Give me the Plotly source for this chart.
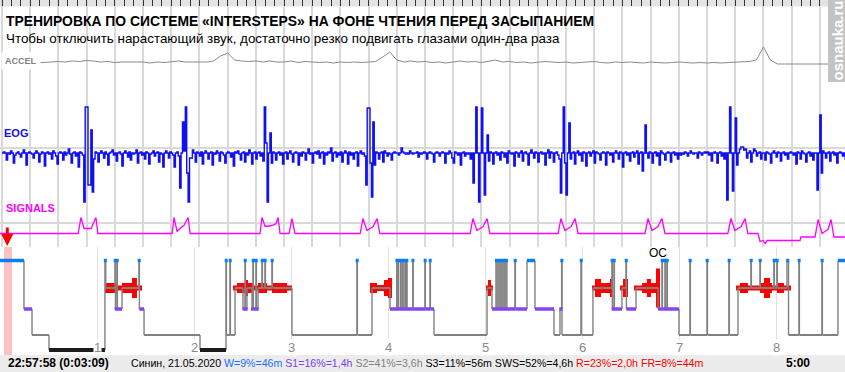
import plotly.graph_objects as go

# ---------------- data ----------------
TITLE = "ТРЕНИРОВКА ПО СИСТЕМЕ «INTERSTEPS» НА ФОНЕ ЧТЕНИЯ ПЕРЕД ЗАСЫПАНИЕМ"
SUBTITLE = "Чтобы отключить нарастающий звук, достаточно резко подвигать глазами один-два раза"
WATERMARK = "osnauka.ru"
CHANNELS = ["ACCEL", "EOG", "SIGNALS"]

# raw 30-second window (seconds)
accel_dt = 0.25
accel = [0, 0, 0, 0, 0, 0, 0.5, 1, 1.5, 1,
         2, 1.5, 2.5, 2, 1, 1.5, 0.5, 1, 1, 0.5,
         1, 0, 1, 0.5, 1, 2, 1, 1, 0.5, 1,
         2, 7, 10, 3, 2, 1.5, 2, 1, 2, 1,
         1, 2, 0.5, 1.5, 1, 0.5, 1, 0, 1, 0.5,
         1, 0.5, 1, 1.5, 6, 11, 3, 1, 2, 1,
         1.5, 0.5, 1, 0, 1, 2, 1, 1.5, 0.5, 2,
         3, 1, 1.5, 0.5, 1, 0, 1, 1.5, 1, 0.5,
         1, 0, 0.5, 1, 1.5, 0.5, 0, 1, 0.5, 1,
         0.5, 0, 1, 0.5, 0, 0.5, 1, 0.5, 0, 0.5,
         0, 0.5, 0, 0.5, 1, 1, 1.5, 3, 16, 3,
         -1, -1, -1, -1, -1, -1, -1, -1, -1, -1, -1]

eog_dt = 0.05
eog = [0, 1, 0, -7, 0, -1, 2, 0, -10, -2, 0, 1, -1, -4, 0, 3, 0, -12, 0, 1,
       0, -1, -5, 0, 2, 0, -9, -1, 1, 0, -13, 0, 1, -1, 0, -6, 2, 0, -3, -11,
       0, 1, 0, -7, 1, -2, 0, 4, -1, -10, 0, 1, -3, 0, -14, 1, 0, -2, -49, 46,
       46, -32, -32, 23, -39, -6, 1, 0, -9, 0, 2, 0, -5, 1, -1, -12, 0, 1, 3, -2,
       0, -8, 0, 1, -1, -13, 0, 2, 0, -4, 1, -7, 0, -1, 0, 3, -10, 0, 1, -2,
       0, -6, 1, 0, -11, -1, 0, 2, -3, 0, 1, -9, 0, -1, -14, 0, 2, 0, -5, 1,
       0, -2, -14, 0, 1, -3, -35, 0, 31, 2, 46, -20, -49, -5, -5, 3, 0, -9, 1, 0,
       -3, 1, -11, 0, 2, 0, -6, 0, 1, -12, 0, -1, 2, 0, -8, 1, 0, -2, -10, 0,
       1, 0, -4, 0, -13, 1, 0, 2, -1, -7, 0, 1, -9, 0, -2, 3, 0, -11, 0, 1,
       -6, 0, 1, -3, 0, -8, 46, 10, -49, 0, 20, -10, 1, 0, -7, 0, 1, -2, 0, -11,
       0, 1, -6, 0, 2, -1, -9, 0, 1, 0, -12, 0, -3, 1, 0, -7, 0, 4, -1, 0,
       -10, 0, 1, -1, 2, -5, 0, 1, -11, 0, -2, 1, 0, 5, -8, 0, 1, -4, 0, -2,
       1, -9, 0, 2, 0, -11, 1, -2, 0, -6, 0, 1, -13, 0, 2, -1, 0, -3, -32, 45,
       45, -10, -44, 31, -12, 1, 0, -6, 0, 1, -9, 2, 0, -3, 0, -1, -7, 0, 1, 0,
       0, -2, 0, 5, 1, 0, -1, 0, -1, 2, 0, -1, 0, 0, 1, -4, 0, -1, 0, 1,
       0, -6, 0, 1, 0, -1, -9, 0, 1, 0, -3, 0, 1, 0, -10, 0, -1, 2, 0, -5,
       -10, 1, 0, -2, 0, -12, 0, 1, -3, 0, -1, 0, -6, 0, -30, 0, 46, 0, -49, 0,
       45, 0, -42, 0, 18, -8, 1, 0, -11, 0, 1, -2, 0, -7, 1, 0, -4, 0, -10, 2,
       0, -1, 0, -13, 1, 0, -4, 0, 2, -8, 0, 1, -1, -12, 0, 3, 0, -5, 1, 0,
       -9, 0, 1, -1, 0, -12, 0, 3, -5, 1, 0, -9, 0, 1, -2, -6, -40, 0, 46, -10,
       -42, 0, 30, -6, 0, 1, -11, 0, 2, -2, 0, -8, 1, 0, -13, 0, 1, -3, 0, 2,
       -10, 1, 0, -1, -7, 0, 1, 0, -12, 1, 0, -2, 0, -9, 0, 2, 0, -6, 1, 0,
       -14, 0, 1, -2, 0, -8, 0, 1, -4, 0, 2, -11, 0, 1, -18, 0, 28, 0, -5, 1,
       0, -10, 0, 1, -3, 0, -12, 2, 0, -1, -7, 0, 1, 0, -9, 0, 1, -2, 0, -6,
       0, -2, 0, -1, 1, 0, -3, 0, 2, 0, -1, 0, 0, -5, 1, 0, -2, 0, 1, 0,
       1, -2, 0, -8, 0, 1, 0, -10, 0, 1, -3, 0, -6, 0, -47, 0, 46, 0, -38, 0,
       35, -12, 0, 4, 6, 6, 3, 4, -5, 0, 2, -9, 0, 4, 2, -3, 0, 1, -6, 0,
       0, -7, 1, 0, -1, -10, 0, 2, 0, -4, 1, 0, -8, 0, 1, -2, 0, -6, 0, 1,
       0, -2, 0, -11, 1, 0, -6, 2, 0, -1, -9, 0, 1, -3, 0, -7, 0, 0, -37, 0,
       38, -20, 2, 0, -5, 0, 1, -8, 0, 1, -2, 0, -10, 0, 1, 0, -3, 0, -6, 0]

signals_t = [-0.07, 2.70, 2.80, 2.91, 3.16, 3.33, 3.40,
             6.03, 6.10, 6.21, 6.31, 6.45, 6.60, 6.67,
             9.15, 9.22, 9.33, 9.57, 9.72, 9.79, 9.86,
             10.18, 10.28, 10.39,
             12.70, 12.80, 12.94, 13.05, 13.16, 13.30, 13.40,
             16.60, 16.70, 16.84, 16.95, 17.06, 17.20, 17.30,
             19.72, 19.82, 19.96, 20.07, 20.18, 20.32, 20.43,
             22.80, 22.91, 23.05, 23.16, 23.26, 23.40, 23.51,
             25.74, 25.85, 25.99, 26.10, 26.21, 26.35, 26.45,
             26.81, 26.88, 26.99, 27.06, 27.13, 28.30, 28.33, 28.83,
             28.94, 29.08, 29.18, 29.29, 29.40, 29.50, 29.89]
signals_v = [0, 0, 16, 5, 5, 16, 0,
             0, 16, 2, 5, 8, 16, 0,
             0, 16, 7, 8, 10, 16, 0,
             0, 15, 0,
             0, 15, 3, 5, 7, 15, 0,
             0, 15, 3, 5, 7, 15, 0,
             0, 15, 3, 5, 7, 15, 0,
             0, 15, 3, 5, 7, 15, 0,
             0, 15, 3, 5, 7, 15, 0,
             0, -8, -7, -10, -7, -7, -3.5, -3.5,
             14, 0, 2, 4, 14, -3.5, -3.5]

# hypnogram (hours from 22:57:58)
stage_start_h = [0.000, 0.247, 0.330, 0.505, 1.082, 1.090, 1.186, 1.190, 1.206, 1.210,
                 1.258, 1.433, 1.437, 1.485, 2.062, 2.330, 2.334, 2.371, 2.375, 2.423,
                 2.505, 2.526, 2.530, 2.546, 2.598, 2.608, 2.612, 2.639, 2.643, 2.660,
                 2.701, 2.705, 2.732, 2.736, 2.804, 2.808, 3.010, 3.680, 3.684, 3.835,
                 4.021, 4.090, 4.094, 4.106, 4.110, 4.131, 4.135, 4.152, 4.156, 4.175,
                 4.179, 4.192, 4.196, 4.255, 4.259, 4.381, 4.385, 4.433, 4.437, 4.474,
                 5.021, 5.072, 5.113, 5.123, 5.134, 5.144, 5.155, 5.165, 5.175, 5.185,
                 5.196, 5.206, 5.216, 5.226, 5.309, 5.313, 5.433, 5.515, 5.711, 5.773,
                 5.790, 5.794, 5.990, 5.994, 6.113, 6.309, 6.313, 6.330, 6.334, 6.412,
                 6.454, 6.458, 6.557, 6.784, 6.825, 6.829, 6.856, 6.860, 6.876, 6.880,
                 7.000, 7.113, 7.117, 7.289, 7.293, 7.515, 7.519, 7.608, 7.742, 7.746,
                 7.835, 7.839, 7.979, 7.983, 8.010, 8.014, 8.113, 8.129, 8.237, 8.241,
                 8.474, 8.478, 8.639]
stage_name = ['W', 'S1', 'S2', 'S3', 'W', 'R', 'W', 'S1', 'W', 'S1',
              'R', 'W', 'S1', 'S2', 'S3', 'W', 'S2', 'W', 'S2', 'R',
              'S1', 'W', 'S1', 'R', 'S1', 'W', 'S1', 'W', 'S1', 'R',
              'W', 'R', 'W', 'R', 'W', 'R', 'S2', 'W', 'S2', 'R',
              'S1', 'W', 'S1', 'W', 'S1', 'W', 'S1', 'W', 'S1', 'W',
              'S1', 'W', 'S1', 'W', 'S1', 'W', 'S1', 'W', 'S1', 'S2',
              'R', 'S1', 'W', 'S1', 'W', 'S1', 'W', 'S1', 'W', 'S1',
              'W', 'S1', 'W', 'S1', 'W', 'S1', 'W', 'S1', 'S2', 'S1',
              'W', 'S2', 'W', 'S2', 'R', 'W', 'S1', 'W', 'S1', 'R',
              'W', 'S1', 'R', 'S1', 'W', 'S1', 'W', 'S1', 'W', 'S1',
              'S2', 'W', 'S2', 'W', 'S2', 'W', 'S2', 'R', 'W', 'R',
              'W', 'R', 'W', 'R', 'W', 'R', 'W', 'S2', 'W', 'S2',
              'W', 'S2', 'W']
record_end_h = 8.711

# REM density blocks (start h, end h, density level)
rem_t0 = [1.082, 1.206, 1.258, 1.361, 1.412,
          2.402, 2.443, 2.526, 2.557, 2.608, 2.660, 2.753, 2.804, 2.959,
          3.814, 3.887, 3.959, 4.000,
          5.010, 5.031, 5.062,
          6.103, 6.134, 6.196, 6.289,
          6.392, 6.423,
          6.536, 6.619, 6.670, 6.711, 6.763,
          7.588, 7.629, 7.711, 7.835, 7.876, 7.938, 7.959, 8.010, 8.082]
rem_t1 = [1.206, 1.258, 1.361, 1.412, 1.464,
          2.443, 2.526, 2.557, 2.608, 2.660, 2.753, 2.804, 2.959, 3.010,
          3.887, 3.959, 4.000, 4.041,
          5.031, 5.062, 5.082,
          6.134, 6.196, 6.289, 6.320,
          6.423, 6.474,
          6.619, 6.670, 6.711, 6.763, 6.804,
          7.629, 7.711, 7.835, 7.876, 7.938, 7.959, 8.010, 8.082, 8.155]
rem_density = [2, 1, 2, 4, 1,
               1, 2, 3.2, 2, 1, 2, 1, 2, 1,
               2, 1.2, 3.2, 4,
               1, 3.2, 1,
               1, 3.6, 2, 3.6,
               1, 3.6,
               1, 2, 3.6, 2, 7.8,
               1, 2, 1, 2, 4, 2, 1, 2, 1]

view_window_h = [0.041, 0.124]
cursor_h = 0.075
hour_marks = [1, 2, 3, 4, 5, 6, 7, 8]
oc_mark_h = 6.784
OC_TEXT = "ОС"

status_time = "22:57:58 (0:03:09)"
status_subject = "Синин, 21.05.2020"
stat_labels = ["W=9%=46m", "S1=16%=1,4h", "S2=41%=3,6h", "S3=11%=56m",
               "SWS=52%=4,6h", "R=23%=2,0h", "FR=8%=44m"]
stat_colors = ["#1a6fff", "#7b3ff2", "#808080", "#000000",
               "#000000", "#ff0000", "#ff0000"]
status_right = "5:00"

# ---------------- styling / layout ----------------
W_PX, H_PX = 845, 372
SEC_PX = 28.2
HOUR_PX = 97.0
FONT = "Liberation Sans, Arial, sans-serif"


def fy(p):
    return 1 - p / H_PX


def fx(p):
    return p / W_PX


STAGE_LEVEL = {'W': 8.95, 'R': 6.2, 'S1': 4.1, 'S2': 1.5, 'S3': 0.0}
STAGE_BAR = {'W': ('#0a7ff5', 0.17, 0.031), 'S1': ('#8446ef', 0.17, 0.031),
             'S3': ('#1c1c1c', 0.2, 0.0)}
REM_COLOR = '#ff0000'
REM_UNIT = 0.25
STEP_COLOR = '#808080'

fig = go.Figure()

# background subplot (vertical 1-second grid + ruler)
fig.add_trace(go.Scatter(x=[0], y=[0], xaxis='x', yaxis='y', mode='markers',
                         marker=dict(opacity=0), hoverinfo='skip', showlegend=False))

accel_t = [i * accel_dt for i in range(len(accel))]
fig.add_trace(go.Scatter(x=accel_t, y=accel, xaxis='x', yaxis='y2', mode='lines',
                         line=dict(color='#8a8a8a', width=1), hoverinfo='skip', showlegend=False))
eog_t = [i * eog_dt for i in range(len(eog))]
fig.add_trace(go.Scatter(x=eog_t, y=eog, xaxis='x', yaxis='y3', mode='lines',
                         line=dict(color='#1010f0', width=1.4, shape='hv'),
                         hoverinfo='skip', showlegend=False))
fig.add_trace(go.Scatter(x=signals_t, y=signals_v, xaxis='x', yaxis='y4', mode='lines',
                         line=dict(color='#ff00ff', width=1.3), hoverinfo='skip', showlegend=False))


def rects(t0s, t1s, centre, halves, minw=0.0):
    xs, ys = [], []
    for a, b, h in zip(t0s, t1s, halves):
        if b - a < minw:
            m = (a + b) / 2
            a, b = m - minw / 2, m + minw / 2
        xs += [a, b, b, a, a, None]
        ys += [centre - h, centre - h, centre + h, centre + h, centre - h, None]
    return xs, ys


# REM density
rx, ry = rects(rem_t0, rem_t1, STAGE_LEVEL['R'], [d * REM_UNIT for d in rem_density])
fig.add_trace(go.Scatter(x=rx, y=ry, xaxis='x2', yaxis='y5', mode='lines', fill='toself',
                         fillcolor=REM_COLOR, line=dict(width=0, color=REM_COLOR),
                         hoverinfo='skip', showlegend=False))

# hypnogram step line: horizontal stage segments and vertical transitions
seg_end = stage_start_h[1:] + [record_end_h]
levels = [STAGE_LEVEL[s] for s in stage_name]
hx, hy, vx, vy = [], [], [], []
for i, (a, b, lv) in enumerate(zip(stage_start_h, seg_end, levels)):
    hx += [a, b, None]
    hy += [lv, lv, None]
    if i > 0:
        vx += [a, a, None]
        vy += [levels[i - 1], lv, None]
fig.add_trace(go.Scatter(x=vx, y=vy, xaxis='x2', yaxis='y5', mode='lines',
                         line=dict(color=STEP_COLOR, width=1.4),
                         hoverinfo='skip', showlegend=False))
fig.add_trace(go.Scatter(x=hx, y=hy, xaxis='x2', yaxis='y5', mode='lines',
                         line=dict(color=STEP_COLOR, width=2),
                         hoverinfo='skip', showlegend=False))

# stage bars
for st, (col, half, minw) in STAGE_BAR.items():
    t0s = [a for a, s in zip(stage_start_h, stage_name) if s == st]
    t1s = [b for b, s in zip(seg_end, stage_name) if s == st]
    bx, by = rects(t0s, t1s, STAGE_LEVEL[st], [half] * len(t0s), minw)
    fig.add_trace(go.Scatter(x=bx, y=by, xaxis='x2', yaxis='y5', mode='lines', fill='toself',
                             fillcolor=col, line=dict(width=0, color=col),
                             hoverinfo='skip', showlegend=False))

shapes = [
    dict(type='rect', xref='paper', yref='paper', x0=0, x1=1, y0=fy(6.5), y1=1,
         fillcolor='#e4e4e4', line=dict(width=0), layer='below'),
    dict(type='rect', xref='paper', yref='paper', x0=0, x1=1, y0=0, y1=fy(355),
         fillcolor='#ececec', line=dict(width=0), layer='below'),
    dict(type='rect', xref='x2', yref='y5 domain', x0=view_window_h[0], x1=view_window_h[1],
         y0=0, y1=1, fillcolor='#ffc2c2', line=dict(width=0), layer='below'),
    dict(type='rect', xref='paper', yref='paper', x0=fx(828), x1=1, y0=fy(82), y1=1,
         fillcolor='#c3c3c3', line=dict(width=0), layer='above'),
]

ann = []
ann.append(dict(text="<b>%s</b>" % TITLE, xref='paper', yref='paper', x=fx(4), y=fy(21),
                xanchor='left', yanchor='middle', showarrow=False,
                font=dict(family=FONT, size=13.9, color='#000000')))
ann.append(dict(text=SUBTITLE, xref='paper', yref='paper', x=fx(4), y=fy(38.5),
                xanchor='left', yanchor='middle', showarrow=False,
                font=dict(family=FONT, size=13.4, color='#000000')))
ann.append(dict(text="<b>%s</b>" % CHANNELS[0], xref='paper', yref='paper', x=fx(1), y=fy(61),
                xanchor='left', yanchor='middle', showarrow=False, bgcolor='#ffffff', borderpad=3,
                font=dict(family=FONT, size=9, color='#808080')))
ann.append(dict(text="<b>%s</b>" % CHANNELS[1], xref='paper', yref='paper', x=fx(3), y=fy(133),
                xanchor='left', yanchor='middle', showarrow=False, borderpad=0,
                font=dict(family=FONT, size=11, color='#1010f0')))
ann.append(dict(text="<b>%s</b>" % CHANNELS[2], xref='paper', yref='paper', x=fx(5), y=fy(208),
                xanchor='left', yanchor='middle', showarrow=False, borderpad=0,
                font=dict(family=FONT, size=11, color='#ff00ff')))
for h in hour_marks:
    ann.append(dict(text=str(h), xref='x2', yref='y5', x=h, y=0.3, xanchor='center',
                    yanchor='middle', showarrow=False, bgcolor='#ffffff', borderpad=0,
                    font=dict(family=FONT, size=13, color='#8a8a8a')))
ann.append(dict(text=OC_TEXT, xref='x2', yref='y5', x=oc_mark_h, y=9.7, xanchor='center',
                yanchor='middle', showarrow=False, font=dict(family=FONT, size=12, color='#000000')))
ann.append(dict(text='', xref='x2', yref='paper', x=cursor_h, y=fy(246), ax=0, ay=-20,
                showarrow=True, arrowhead=2, arrowsize=0.8, arrowwidth=3, arrowcolor='#ff0000'))
ann.append(dict(text="<b>%s</b>" % WATERMARK, xref='paper', yref='paper', x=fx(836.5), y=fy(41),
                xanchor='center', yanchor='middle', textangle=-90, showarrow=False,
                font=dict(family=FONT, size=15, color='#ffffff')))
ann.append(dict(text="<b>%s</b>" % status_time, xref='paper', yref='paper', x=fx(6), y=fy(363),
                xanchor='left', yanchor='middle', showarrow=False,
                font=dict(family=FONT, size=12, color='#000000')))
stats = status_subject + " " + " ".join(
    "<span style='color:%s'>%s</span>" % (c, t) for t, c in zip(stat_labels, stat_colors))
ann.append(dict(text=stats, xref='paper', yref='paper', x=fx(129), y=fy(363),
                xanchor='left', yanchor='middle', showarrow=False,
                font=dict(family=FONT, size=10.6, color='#000000')))
ann.append(dict(text="<b>%s</b>" % status_right, xref='paper', yref='paper', x=fx(784), y=fy(363),
                xanchor='left', yanchor='middle', showarrow=False,
                font=dict(family=FONT, size=12, color='#000000')))

hidden_y = dict(showgrid=False, zeroline=False, showticklabels=False, ticks='', showline=False)

fig.update_layout(
    width=W_PX, height=H_PX, margin=dict(l=0, r=0, t=0, b=0),
    paper_bgcolor='#ffffff', plot_bgcolor='rgba(0,0,0,0)',
    showlegend=False, font=dict(family=FONT),
    xaxis=dict(domain=[0, 1], range=[-2 / SEC_PX, (W_PX - 2) / SEC_PX], anchor='y', side='top',
               tick0=0, dtick=1, ticks='inside', ticklen=6, tickwidth=1, tickcolor='#333333',
               showticklabels=False, showgrid=True, gridcolor='#d9d9d9', gridwidth=1.5,
               zeroline=False, showline=False,
               minor=dict(tick0=0, dtick=1 / 3, ticks='inside', ticklen=6, tickwidth=1,
                          tickcolor='#333333', showgrid=False)),
    yaxis=dict(domain=[fy(247), 1], range=[0, 1], anchor='x', **hidden_y),
    yaxis2=dict(domain=[fy(75), fy(40)], range=[-12, 23], anchor='x', **hidden_y),
    yaxis3=dict(domain=[fy(205), fy(100)], range=[-52, 53], anchor='x',
                showgrid=True, tickvals=[5.5], gridcolor='#d9d9d9', gridwidth=1.5,
                zeroline=False, showticklabels=False, ticks='', showline=False),
    yaxis4=dict(domain=[fy(245), fy(210)], range=[-11.5, 23.5], anchor='x',
                showgrid=True, tickvals=[10.5], gridcolor='#d9d9d9', gridwidth=1.5,
                zeroline=False, showticklabels=False, ticks='', showline=False),
    xaxis2=dict(domain=[0, 1], range=[0, W_PX / HOUR_PX], anchor='y5', tick0=0, dtick=1,
                showgrid=True, gridcolor='#e2e2e2', gridwidth=1, ticks='',
                showticklabels=False, zeroline=False, showline=False),
    yaxis5=dict(domain=[fy(355), fy(247)], range=[-0.5, 10.3], anchor='x2', **hidden_y),
    shapes=shapes, annotations=ann,
)

fig.write_html("out.html")
